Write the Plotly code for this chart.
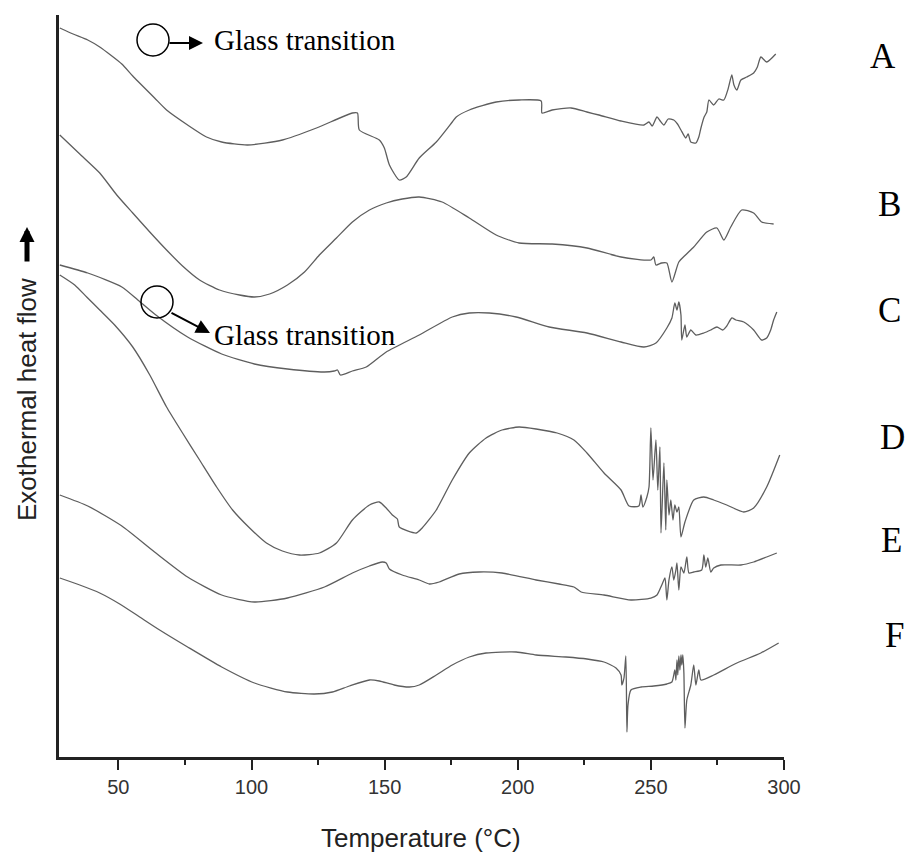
import plotly.graph_objects as go

# ---------------- data (Temperature in °C, heat flow in arbitrary units) ----------------
A_T = [28.0, 33.0, 38.5, 43.0, 51.3, 55.4, 63.6, 68.1, 76.0, 83.1, 88.8, 98.5, 111.6, 124.4, 137.9, 139.8,
       140.5, 148.0, 149.9, 151.8, 155.5, 158.1, 163.0, 169.4, 175.4, 176.9, 181.8, 191.9, 200.5,
       208.8, 209.1, 212.9, 220.0, 226.0, 230.5, 238.8, 247.4, 249.3, 250.5, 252.3, 253.5, 254.9,
       256.5, 258.6, 260.0, 261.3, 263.1, 264.0, 265.0, 266.9, 268.0, 268.8, 270.0, 271.0, 271.8,
       273.6, 275.5, 277.4, 279.0, 280.4, 281.2, 282.3, 283.8, 286.0, 288.6, 290.0, 291.3, 293.5, 296.9]
A_H = [729, 723, 717, 710, 693, 681, 659, 647, 632, 620, 615, 612, 617, 629, 644, 644,
       627, 617, 609, 592, 577, 580, 599, 615, 635, 640, 647, 655, 657,
       656, 644, 647, 649, 645, 642, 636, 632, 635, 631, 640, 636, 632,
       638, 637, 633, 627, 619, 623, 615, 614, 620, 629, 640, 645, 657,
       652, 658, 657, 668, 682, 672, 667, 677, 680, 684, 690, 700, 695, 703]

B_T = [28.0, 35.5, 43.0, 49.4, 55.4, 61.8, 68.1, 74.1, 80.5, 88.0, 95.5, 101.1, 106.8, 113.5, 119.9,
       125.5, 131.9, 137.9, 144.3, 150.6, 156.6, 163.0, 171.6, 181.8, 191.9, 200.5, 212.9, 226.0,
       238.8, 250.0, 251.1, 251.9, 254.0, 256.0, 257.9, 260.5, 263.0, 266.1, 271.0, 274.8, 277.4,
       280.0, 284.1, 288.6, 291.6, 296.1]
B_H = [622, 603, 584, 562, 544, 525, 507, 491, 477, 467, 462, 460, 463, 472, 485,
       502, 519, 535, 547, 554, 558, 560, 555, 539, 522, 514, 513, 509,
       500, 497, 500, 492, 494, 494, 475, 495, 502, 510, 525, 529, 517,
       530, 547, 544, 535, 533]

C_T = [28.0, 38.5, 51.3, 57.3, 63.6, 76.0, 88.8, 101.1, 113.5, 127.4, 131.1, 132.3, 133.4, 137.9,
       143.1, 150.6, 163.0, 175.4, 181.8, 189.3, 199.4, 211.8, 226.0, 238.8, 247.4, 251.9, 256.0,
       257.9, 259.0, 259.8, 260.5, 261.3, 261.6, 262.8, 263.5, 265.0, 266.9, 269.9, 272.5, 274.8,
       277.0, 278.5, 280.4, 281.9, 284.9, 288.6, 291.6, 293.5, 295.0, 296.1, 297.3]
C_H = [492, 484, 470, 457, 443, 420, 403, 393, 388, 385, 386, 387, 382, 386,
       390, 405, 422, 440, 444, 444, 440, 430, 424, 415, 410, 414, 429,
       439, 454, 447, 455, 442, 417, 432, 420, 427, 422, 424, 427, 430,
       427, 431, 439, 437, 435, 427, 417, 419, 427, 437, 445]

D_T = [28.0, 33.6, 38.1, 43.0, 48.6, 55.4, 61.8, 68.1, 74.1, 80.5, 86.9, 92.9, 99.3, 105.6, 111.6,
       118.0, 125.5, 131.9, 137.9, 144.3, 148.0, 150.6, 152.9, 154.8, 155.5, 161.9, 164.1, 169.4,
       175.4, 181.8, 188.1, 194.1, 200.5, 206.9, 214.8, 221.1, 226.0, 232.4, 238.8, 241.8, 245.5,
       246.3, 247.0, 248.5, 249.3, 250.0, 250.8, 251.9, 252.6, 253.4, 253.8, 254.9, 255.6, 256.0,
       256.8, 257.5, 258.3, 259.0, 259.8, 260.5, 261.3, 262.8, 266.1, 269.9, 273.6, 278.5, 284.9,
       288.6, 293.5, 298.4]
D_H = [482, 472, 460, 447, 432, 410, 382, 350, 324, 297, 270, 247, 229, 214, 206,
       202, 204, 214, 237, 252, 255, 249, 242, 238, 230, 224, 229, 247,
       277, 304, 319, 327, 330, 328, 324, 317, 304, 284, 267, 251, 251,
       262, 250, 260, 270, 329, 277, 317, 267, 310, 224, 294, 227, 277,
       242, 257, 237, 252, 245, 250, 220, 235, 257, 260, 257, 252, 245,
       249, 270, 302]

E_T = [28.0, 38.5, 51.3, 63.6, 76.0, 88.8, 101.1, 113.5, 127.4, 137.9, 144.3, 149.1, 150.6, 151.8,
       156.6, 163.0, 166.8, 170.5, 178.0, 185.5, 194.1, 206.9, 215.5, 221.1, 223.8, 232.4, 242.5,
       250.0, 252.3, 254.1, 255.3, 256.0, 256.8, 257.9, 258.6, 259.4, 259.8, 260.5, 261.3, 262.4,
       263.5, 264.3, 266.1, 269.1, 269.9, 270.6, 271.4, 272.5, 273.6, 276.3, 283.8, 288.6, 293.5, 297.3]
E_H = [262, 251, 231, 205, 180, 162, 155, 159, 170, 184, 191, 195, 194, 188,
       182, 177, 173, 175, 183, 185, 184, 177, 173, 170, 165, 162, 157,
       159, 162, 172, 179, 157, 177, 190, 177, 187, 194, 167, 190, 184,
       200, 184, 185, 187, 202, 190, 199, 185, 189, 192, 192, 195, 200, 204]

F_T = [28.0, 35.5, 43.0, 50.5, 58.0, 65.5, 76.0, 88.8, 101.1, 113.5, 123.6, 130.4, 136.8, 144.3,
       148.0, 153.6, 159.3, 163.0, 169.4, 175.4, 181.8, 188.1, 199.4, 206.9, 218.1, 226.0, 232.4,
       236.9, 238.8, 239.1, 239.9, 240.6, 241.0, 241.4, 242.5, 246.3, 251.1, 256.0, 257.9, 259.0,
       259.4, 259.8, 260.1, 260.5, 260.9, 261.3, 261.6, 262.0, 262.4, 262.8, 263.5, 265.0, 266.1,
       266.9, 268.0, 268.8, 273.6, 282.3, 291.3, 298.0]
F_H = [179, 172, 164, 153, 140, 127, 110, 90, 74, 65, 63, 65, 71, 77,
       76, 72, 70, 72, 82, 92, 100, 104, 105, 102, 100, 98, 95,
       89, 82, 72, 79, 101, 25, 52, 67, 70, 71, 73, 75, 87,
       77, 97, 82, 101, 87, 102, 92, 102, 84, 29, 57, 72, 92,
       72, 87, 77, 82, 94, 104, 114]

SERIES = [("A", A_T, A_H), ("B", B_T, B_H), ("C", C_T, C_H),
          ("D", D_T, D_H), ("E", E_T, E_H), ("F", F_T, F_H)]

X_TICKS = [50, 100, 150, 200, 250, 300]
X_MINOR = [75, 125, 175, 225, 275]
X_TITLE = "Temperature (°C)"
Y_TITLE = "Exothermal heat flow"
NOTE = "Glass transition"

# ---------------- layout geometry (pixels) ----------------
W, H = 908, 856
PL, PR, PT, PB = 59, 784, 15, 757


def px(x):
    return (x - PL) / (PR - PL)


def py(y):
    return (PB - y) / (PB - PT)


fig = go.Figure()
for name, t, h in SERIES:
    fig.add_trace(go.Scatter(x=t, y=h, mode="lines", name=name,
                             line=dict(color="#5e5e5e", width=1.3, shape="spline", smoothing=0.6),
                             showlegend=False, hoverinfo="skip"))

ann = []
# series labels on the right
label_pos = {"A": (883, 56), "B": (889, 204), "C": (890, 310),
             "D": (892, 437), "E": (891, 540), "F": (894, 635)}
for name, _, _ in SERIES:
    lx, ly = label_pos[name]
    ann.append(dict(x=px(lx), y=py(ly), xref="paper", yref="paper", text=name, showarrow=False,
                    xanchor="center", yanchor="middle",
                    font=dict(family="Liberation Serif", size=35, color="black")))

# glass transition notes
for (tx, ty), (hx, hy), (sx, sy) in [((212, 40), (203, 43), (168, 43)),
                                     ((212, 335), (210, 333), (170, 312))]:
    ann.append(dict(x=px(tx), y=py(ty), xref="paper", yref="paper", text=NOTE, showarrow=False,
                    xanchor="left", yanchor="middle",
                    font=dict(family="Liberation Serif", size=29, color="black")))
    ann.append(dict(x=px(hx), y=py(hy), xref="paper", yref="paper", text="", showarrow=True,
                    ax=sx - hx, ay=sy - hy, arrowhead=2, arrowsize=1.4, arrowwidth=2,
                    arrowcolor="black", standoff=0))

# axis titles
ann.append(dict(x=px(421), y=py(838), xref="paper", yref="paper", text=X_TITLE, showarrow=False,
                xanchor="center", yanchor="middle",
                font=dict(family="Liberation Sans", size=26, color="#222")))
ann.append(dict(x=px(27), y=py(400), xref="paper", yref="paper", text=Y_TITLE, showarrow=False,
                textangle=-90, xanchor="center", yanchor="middle",
                font=dict(family="Liberation Sans", size=26, color="#222")))
ann.append(dict(x=px(27), y=py(227), xref="paper", yref="paper", text="", showarrow=True,
                ax=0, ay=36, arrowhead=2, arrowsize=0.6, arrowwidth=5,
                arrowcolor="black", standoff=0))

shapes = []
for cx, cy in [(153, 40), (157, 302)]:
    shapes.append(dict(type="circle", xref="paper", yref="paper",
                       x0=px(cx - 16), x1=px(cx + 16), y0=py(cy + 16), y1=py(cy - 16),
                       line=dict(color="black", width=1.5)))

fig.update_layout(
    width=W, height=H,
    margin=dict(l=PL, r=W - PR, t=PT, b=H - PB, pad=0),
    paper_bgcolor="white", plot_bgcolor="white",
    xaxis=dict(range=[27.7, 300], tickvals=X_TICKS, ticks="outside", ticklen=10, tickwidth=2,
               tickcolor="#222", showline=True, linecolor="#222", linewidth=2.5,
               showgrid=False, zeroline=False,
               minor=dict(tickvals=X_MINOR, ticks="outside", ticklen=5,
                          tickwidth=2, tickcolor="#222", showgrid=False),
               tickfont=dict(family="Liberation Sans", size=20, color="#333")),
    yaxis=dict(range=[0, 742], showticklabels=False, ticks="", showline=True, linecolor="#222",
               linewidth=2.5, showgrid=False, zeroline=False),
    annotations=ann, shapes=shapes,
)

fig.write_html("out.html")
